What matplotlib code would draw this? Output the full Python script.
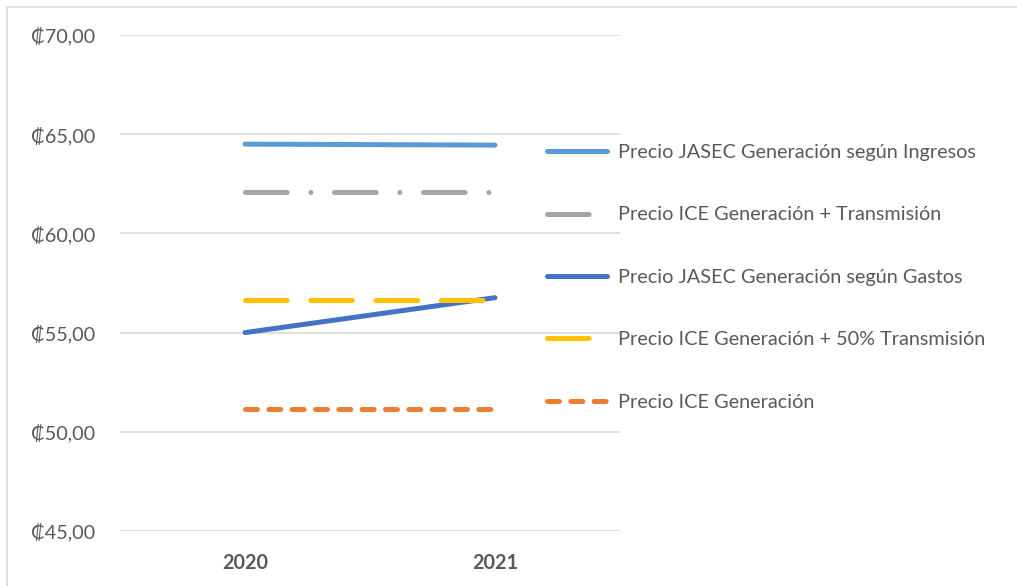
import matplotlib
matplotlib.use("Agg")
import matplotlib.pyplot as plt
from matplotlib.patches import Rectangle

plt.rcParams['font.family'] = ['Lato', 'DejaVu Sans']
plt.rcParams['lines.scale_dashes'] = False

years = ['2020', '2021']
labels = ['Precio JASEC Generación según Ingresos',
          'Precio ICE Generación + Transmisión',
          'Precio JASEC Generación según Gastos',
          'Precio ICE Generación + 50% Transmisión',
          'Precio ICE Generación']
ingresos = [64.50, 64.45]
ice_gt = [62.08, 62.08]
gastos = [55.00, 56.76]
ice_g50t = [56.62, 56.62]
ice_g = [51.16, 51.16]
yticks = [45, 50, 55, 60, 65, 70]

colors = ['#5B9BD5', '#A5A5A5', '#4472C4', '#FFC000', '#ED7D31']
styles = ['-', (0, (30, 17, 0.1, 17)), '-', (0, (30, 17)), (0, (8.6, 8.2))]
series = [ingresos, ice_gt, gastos, ice_g50t, ice_g]

FS = 14.3
W, H = 1017, 586
fig = plt.figure(figsize=(W/100, H/100), dpi=100)
ax = fig.add_axes([120/W, 1-531/H, 500/W, (531-35)/H])

x = [0, 1]
for vals, c, ls, lab in zip(series, colors, styles, labels):
    ax.plot(x, vals, color=c, linestyle=ls, lw=3.6, label=lab,
            solid_capstyle='round', dash_capstyle='round')

ax.set_xlim(-0.5, 1.5)
ax.set_ylim(45, 70)
ax.set_yticks(yticks)
ax.set_yticklabels(['₡%d,00' % v for v in yticks])
ax.set_xticks(x)
ax.set_xticklabels(years, fontweight='bold')
ax.grid(axis='y', color='#D9D9D9', lw=1.2)
ax.set_axisbelow(True)
for s in ax.spines.values():
    s.set_visible(False)
ax.tick_params(axis='y', length=0, pad=18, labelsize=FS, labelcolor='#595959')
ax.tick_params(axis='x', length=0, pad=16, labelsize=FS, labelcolor='#595959')

leg = ax.legend(loc='upper left', bbox_to_anchor=(547/W, 1-144/H),
                bbox_transform=fig.transFigure, frameon=False,
                borderaxespad=0, borderpad=0, handlelength=3.0,
                handletextpad=0.55, labelspacing=2.29, fontsize=FS,
                labelcolor='#595959')

fig.patches.append(Rectangle((7/W, -0.1), 1.2, 1-7/H+0.1, transform=fig.transFigure,
                             fill=False, edgecolor='#D9D9D9', lw=1.2))

fig.savefig('out.png', dpi=100)
